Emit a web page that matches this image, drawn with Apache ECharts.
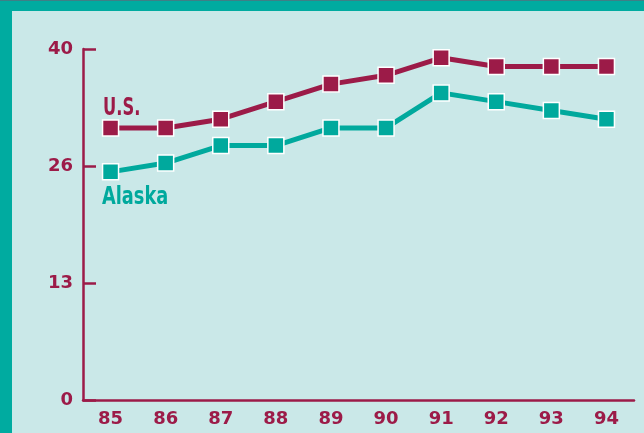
<!DOCTYPE html>
<html>
<head>
<meta charset="utf-8">
<script src="https://cdn.jsdelivr.net/npm/echarts@6/dist/echarts.min.js"></script>
<style>
  html, body { margin: 0; padding: 0; }
  body { width: 644px; height: 433px; background: #00aba0; position: relative; overflow: hidden; }
  #top-line { position: absolute; left: 0; top: 0; width: 644px; height: 1px; background: #3f7f86; }
  #grafica { position: absolute; left: 12px; top: 11px; width: 632px; height: 422px; background: #cae8e8; }
</style>
</head>
<body>
<div id="top-line"></div>
<div id="grafica"></div>
<script>
let years = ['85', '86', '87', '88', '89', '90', '91', '92', '93', '94'];
let usValues = [31, 31, 32, 34, 36, 37, 39, 38, 38, 38];
let alaskaValues = [26, 27, 29, 29, 31, 31, 35, 34, 33, 32];
let yTickLabels = ['0', '13', '26', '40'];

let crimson = '#9c1b48';
let teal = '#00a99d';
let fuente = '"DejaVu Sans", sans-serif';

let chartDom = document.getElementById('grafica');
let myChart = echarts.init(chartDom, null, { renderer: 'canvas' });

let option = {
  backgroundColor: 'transparent',
  animation: false,
  grid: { left: 71, top: 38, right: 10, bottom: 33 },
  xAxis: {
    type: 'category',
    data: years,
    boundaryGap: true,
    axisLine: { lineStyle: { color: crimson, width: 2.5 } },
    axisTick: { inside: true, length: 7, lineStyle: { color: crimson, width: 2.5 } },
    axisLabel: { color: crimson, fontWeight: 'bold', fontSize: 18, fontFamily: fuente, margin: 10 },
    splitLine: { show: false }
  },
  yAxis: {
    type: 'value',
    min: 0,
    max: 40,
    interval: 40 / 3,
    axisLine: { show: true, lineStyle: { color: crimson, width: 2.5 } },
    axisTick: { show: true, inside: true, length: 13, lineStyle: { color: crimson, width: 2.5 } },
    axisLabel: {
      color: crimson, fontWeight: 'bold', fontSize: 18, fontFamily: fuente, margin: 10,
      formatter: function (v) { return yTickLabels[Math.round(v / (40 / 3))]; }
    },
    splitLine: { show: false }
  },
  series: [
    {
      name: 'U.S.',
      type: 'line',
      data: usValues,
      symbol: 'rect',
      symbolSize: 16,
      lineStyle: { color: crimson, width: 5 },
      itemStyle: { color: crimson, borderColor: '#ffffff', borderWidth: 1.5 },
      z: 3
    },
    {
      name: 'Alaska',
      type: 'line',
      data: alaskaValues,
      symbol: 'rect',
      symbolSize: 16,
      lineStyle: { color: teal, width: 5 },
      itemStyle: { color: teal, borderColor: '#ffffff', borderWidth: 1.5 },
      z: 2
    }
  ],
  graphic: [
    {
      type: 'text', x: 91, y: 86, scaleX: 0.68,
      style: { text: 'U.S.', fill: crimson, font: 'bold 24px ' + fuente }
    },
    {
      type: 'text', x: 90, y: 175, scaleX: 0.74,
      style: { text: 'Alaska', fill: teal, font: 'bold 24px ' + fuente }
    }
  ]
};

myChart.setOption(option);
</script>
</body>
</html>
